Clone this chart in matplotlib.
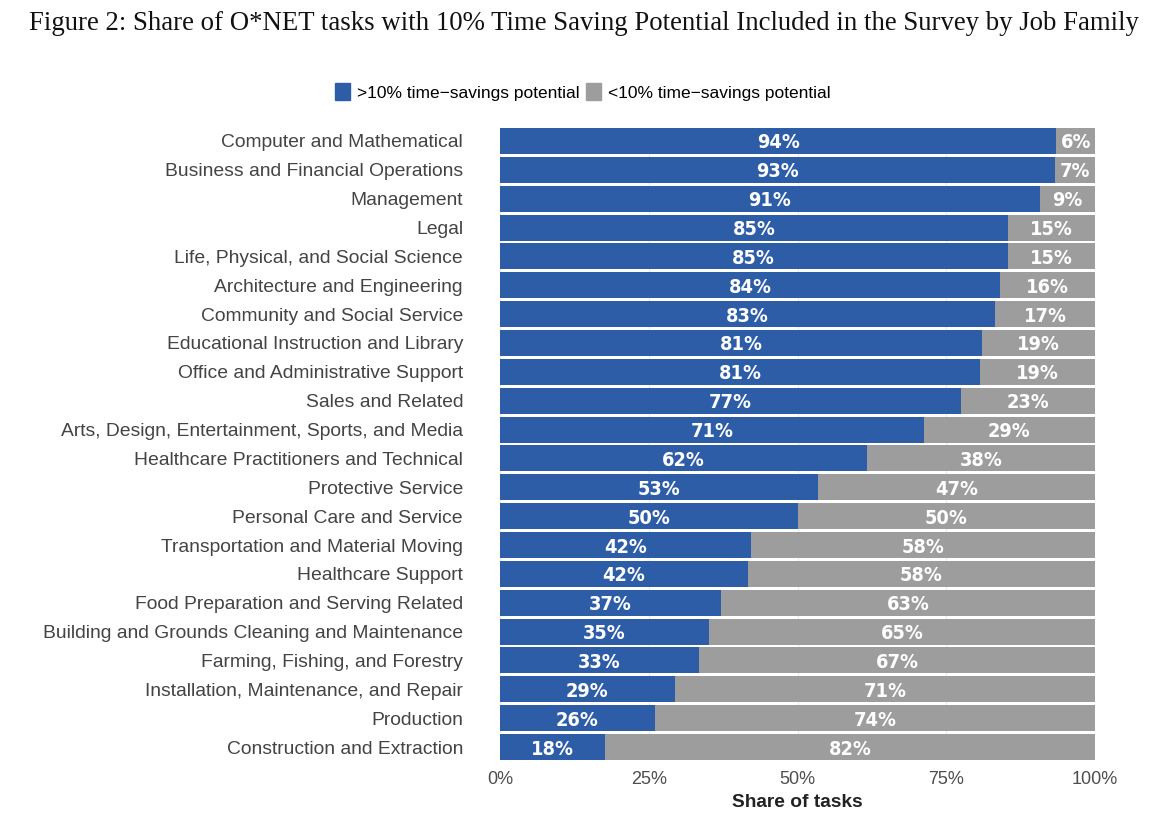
import numpy as np
import matplotlib.pyplot as plt
from matplotlib.patches import Patch

# --- data ---
job_families = [
    "Computer and Mathematical",
    "Business and Financial Operations",
    "Management",
    "Legal",
    "Life, Physical, and Social Science",
    "Architecture and Engineering",
    "Community and Social Service",
    "Educational Instruction and Library",
    "Office and Administrative Support",
    "Sales and Related",
    "Arts, Design, Entertainment, Sports, and Media",
    "Healthcare Practitioners and Technical",
    "Protective Service",
    "Personal Care and Service",
    "Transportation and Material Moving",
    "Healthcare Support",
    "Food Preparation and Serving Related",
    "Building and Grounds Cleaning and Maintenance",
    "Farming, Fishing, and Forestry",
    "Installation, Maintenance, and Repair",
    "Production",
    "Construction and Extraction",
]
share_above = [93.5, 93.3, 90.7, 85.4, 85.3, 84.0, 83.2, 81.0, 80.7, 77.4, 71.2,
               61.7, 53.4, 50.1, 42.2, 41.7, 37.1, 35.1, 33.5, 29.4, 26.0, 17.6]
label_above = [94, 93, 91, 85, 85, 84, 83, 81, 81, 77, 71, 62, 53, 50, 42, 42, 37, 35, 33, 29, 26, 18]
label_below = [6, 7, 9, 15, 15, 16, 17, 19, 19, 23, 29, 38, 47, 50, 58, 58, 63, 65, 67, 71, 74, 82]
x_ticks = [0, 25, 50, 75, 100]

blue = "#2E5DA8"
grey = "#9D9D9D"
text_col = "#4D4D4D"
sans = ["Liberation Sans", "DejaVu Sans"]

share_above = np.array(share_above, dtype=np.float64)
share_below = 100.0 - share_above
n = len(job_families)
y = np.arange(n)[::-1]

fig = plt.figure(figsize=(11.68, 8.30), dpi=100)
ax = fig.add_axes([500 / 1168, 1 - 760 / 830, 595 / 1168, (760 - 128) / 830])

ax.barh(y, share_above, height=0.9, color=blue, zorder=2)
ax.barh(y, share_below, left=share_above, height=0.9, color=grey, zorder=2)

# bar value labels (white, bold)
for yi, a, la, lb in zip(y, share_above, label_above, label_below):
    ax.text(a / 2, yi, f"{la}%", ha="center", va="center_baseline", color="white",
            fontsize=14.3, fontweight="bold", family="DejaVu Sans", fontstretch="condensed", zorder=3)
    ax.text(a + (100 - a) / 2, yi, f"{lb}%", ha="center", va="center_baseline", color="white",
            fontsize=14.3, fontweight="bold", family="DejaVu Sans", fontstretch="condensed", zorder=3)

ax.set_xlim(0, 100)
ax.set_ylim(-0.45, n - 0.55)
ax.set_xticks(x_ticks)
ax.set_xticklabels([f"{t}%" for t in x_ticks], family=sans, fontsize=13, color=text_col)
ax.set_yticks(y)
ax.set_yticklabels(job_families, family=sans, fontsize=13.9, color="#444444")
ax.tick_params(axis="y", length=0, pad=37 * 0.72)
ax.tick_params(axis="x", length=0, pad=8)
for s in ax.spines.values():
    s.set_visible(False)
ax.grid(axis="x", color="#EBEBEB", linewidth=0.8, zorder=0)
ax.set_axisbelow(True)
ax.set_xlabel("Share of tasks", family=sans, fontsize=13.8, fontweight="bold",
              color="#222222", labelpad=4)

fig.text(0.5, 0.972, "Figure 2: Share of O*NET tasks with 10% Time Saving Potential Included in the Survey by Job Family",
         ha="center", va="center", family=["Liberation Serif", "DejaVu Serif"], fontsize=19.3, color="#111111")

handles = [Patch(color=blue, label=">10% time\u2212savings potential"),
           Patch(color=grey, label="<10% time\u2212savings potential")]
fig.legend(handles=handles, loc="center", bbox_to_anchor=(583 / 1168, 1 - 92 / 830), ncol=2,
           frameon=False, prop={"family": sans, "size": 12.5}, handlelength=0.85, handleheight=1.1,
           handletextpad=0.4, columnspacing=0.4)

fig.savefig("out.png", dpi=100)
